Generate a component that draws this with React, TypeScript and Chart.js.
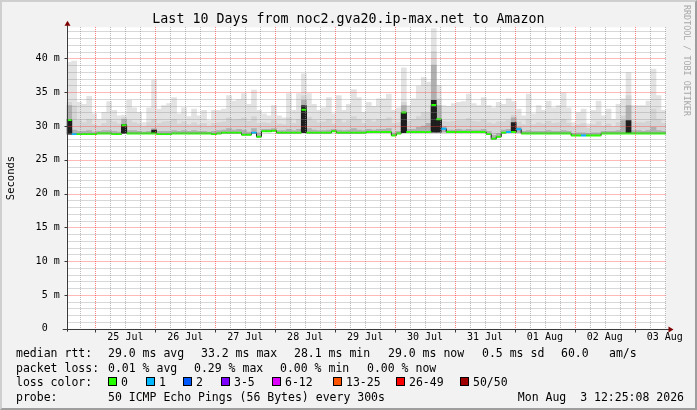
import React, { useEffect, useRef } from 'react';
import { Chart, registerables } from 'chart.js';

Chart.register(...registerables);

const FONT = "'DejaVu Sans Mono', monospace";

// time axis in hours relative to 25 Jul 00:00
const rangeStartHour = -11.5;
const rangeEndHour = 228.5;
const binHours = 2;

const dayLabels = ['25 Jul', '26 Jul', '27 Jul', '28 Jul', '29 Jul', '30 Jul', '31 Jul', '01 Aug', '02 Aug', '03 Aug'];

// median RTT per 2-hour bin (ms)
const medianRtt = [
  30.9, 28.8, 28.8, 28.8, 28.8, 28.8, 28.9, 28.9, 28.9, 28.8,
  28.8, 30.1, 28.9, 28.9, 28.9, 28.9, 28.9, 28.9, 28.8, 28.8,
  28.8, 28.9, 28.9, 28.9, 28.9, 28.9, 28.9, 28.9, 28.9, 28.8,
  28.9, 29.0, 29.0, 29.0, 29.0, 28.7, 28.7, 29.0, 28.4, 29.2,
  29.2, 29.3, 29.0, 29.0, 29.0, 29.0, 29.0, 32.4, 29.0, 29.0,
  29.0, 29.0, 29.0, 29.2, 29.0, 29.0, 29.0, 29.0, 29.0, 29.0,
  29.1, 29.1, 29.1, 29.1, 29.1, 28.6, 28.9, 32.0, 29.1, 29.1,
  29.1, 29.1, 29.1, 33.1, 31.0, 29.6, 29.1, 29.1, 29.1, 29.1,
  29.1, 29.1, 29.1, 29.1, 28.8, 28.1, 28.4, 29.0, 29.1, 29.1,
  29.5, 28.9, 28.9, 28.9, 28.9, 28.9, 28.9, 28.9, 28.9, 28.9,
  28.9, 28.6, 28.6, 28.6, 28.6, 28.6, 28.6, 28.9, 28.9, 28.9,
  28.9, 28.9, 28.9, 28.9, 28.9, 28.9, 28.9, 28.9, 28.9, 28.9,
];

// highest ping of the bin (light smoke top, ms)
const smokeTop = [
  39.4, 39.6, 33.5, 33.2, 34.4, 31.8, 31.0, 32.0, 33.6, 32.3,
  31.5, 31.6, 33.8, 32.7, 32.0, 30.5, 32.7, 36.8, 32.5, 33.0,
  33.3, 34.2, 31.8, 32.7, 31.4, 32.5, 31.5, 32.3, 30.8, 32.3,
  32.3, 32.5, 34.5, 33.7, 33.9, 34.8, 33.2, 35.3, 32.3, 31.8,
  31.5, 33.0, 31.5, 31.2, 34.8, 32.3, 34.8, 37.7, 34.8, 33.2,
  32.3, 32.7, 34.2, 31.8, 34.5, 32.3, 33.2, 35.4, 34.2, 32.0,
  33.5, 32.9, 34.0, 34.0, 34.7, 32.3, 32.7, 38.6, 33.0, 34.0,
  35.9, 37.2, 36.5, 44.4, 36.0, 33.0, 32.9, 33.3, 33.5, 33.6,
  34.7, 33.3, 33.0, 34.2, 33.0, 32.7, 33.5, 33.2, 34.0, 33.6,
  32.5, 31.5, 34.7, 31.8, 33.0, 32.3, 33.7, 32.7, 33.0, 34.9,
  32.7, 30.5, 32.0, 32.5, 30.3, 32.3, 33.7, 31.5, 32.5, 31.0,
  33.2, 34.0, 37.9, 33.0, 33.0, 33.0, 33.7, 38.4, 34.5, 32.3,
];

// medium smoke top (ms)
const smokeMid = [
  33.5, 33.0, 30.8, 30.5, 31.0, 30.2, 30.0, 30.4, 30.9, 30.6,
  30.3, 31.2, 30.8, 30.5, 30.3, 29.9, 30.5, 31.0, 30.4, 30.6,
  30.7, 31.0, 30.3, 30.6, 30.2, 30.5, 30.2, 30.4, 30.0, 30.4,
  30.5, 30.6, 31.2, 30.9, 31.0, 31.2, 30.7, 31.4, 30.4, 30.5,
  30.4, 30.8, 30.3, 30.2, 31.2, 30.4, 31.0, 34.5, 31.3, 30.8,
  30.5, 30.6, 31.0, 30.3, 31.0, 30.5, 30.8, 31.4, 31.0, 30.4,
  30.9, 30.6, 31.0, 31.0, 31.2, 30.4, 30.5, 33.5, 30.7, 31.0,
  31.4, 32.0, 32.0, 41.0, 34.0, 30.7, 30.6, 30.7, 30.8, 30.8,
  31.1, 30.7, 30.6, 30.9, 30.5, 30.3, 30.6, 30.6, 30.8, 31.6,
  30.6, 30.2, 31.0, 30.2, 30.5, 30.3, 30.7, 30.4, 30.5, 31.0,
  30.4, 29.8, 30.2, 30.4, 29.7, 30.2, 30.6, 30.0, 30.3, 29.9,
  30.5, 31.5, 34.5, 30.6, 30.5, 30.5, 30.7, 32.5, 31.0, 30.4,
];

// dense smoke top right above the median (ms)
const smokeDense = [
  33.0, 29.4, 29.2, 29.2, 29.3, 29.1, 29.2, 29.3, 29.3, 29.2,
  29.1, 31.0, 29.3, 29.3, 29.2, 29.1, 29.2, 29.6, 29.2, 29.2,
  29.2, 29.3, 29.2, 29.3, 29.2, 29.3, 29.2, 29.2, 29.1, 29.2,
  29.3, 29.4, 29.6, 29.4, 29.5, 29.4, 29.1, 29.6, 29.0, 29.5,
  29.5, 29.6, 29.3, 29.3, 29.5, 29.3, 29.5, 33.8, 29.6, 29.4,
  29.3, 29.3, 29.4, 29.5, 29.4, 29.3, 29.4, 29.6, 29.4, 29.3,
  29.5, 29.4, 29.5, 29.5, 29.6, 29.0, 29.2, 33.0, 29.5, 29.5,
  29.8, 30.0, 30.4, 39.0, 33.0, 29.9, 29.4, 29.4, 29.5, 29.4,
  29.5, 29.4, 29.4, 29.5, 29.2, 28.6, 28.9, 29.4, 29.5, 31.2,
  29.8, 29.2, 29.3, 29.2, 29.2, 29.2, 29.3, 29.2, 29.2, 29.3,
  29.2, 28.9, 29.0, 29.0, 28.9, 29.0, 29.0, 29.2, 29.2, 29.2,
  29.3, 30.8, 33.0, 29.3, 29.3, 29.2, 29.3, 29.8, 29.3, 29.2,
];

// bins with a black (very dense) column, and its top (ms)
const spikeBins = [0, 11, 17, 47, 67, 73, 74, 89, 112];
const spikeTops = [31.0, 30.2, 29.4, 33.0, 32.0, 33.8, 31.0, 30.5, 30.8];

// bins where the lowest ping lies clearly below the median (ms)
const floorBins = [0, 11, 47, 67, 73, 74, 75, 90];
const floorValues = [28.8, 28.9, 29.0, 29.0, 29.1, 29.1, 29.1, 29.0];

// bins with lost pings, and how many
const lossBins = [1, 37, 75, 88, 90, 103];
const lossCounts = [1, 1, 1, 1, 1, 1];

const lossLegendLabels = ['0', '1', '2', '3-5', '6-12', '13-25', '26-49', '50/50'];
const lossLegendColors = ['#26ff00', '#00b8ff', '#0059ff', '#7e00ff', '#dd00ff', '#ff5500', '#ff0000', '#a00000'];
const lossLegendX = [108, 146, 183, 221, 272, 333, 396, 460];

const medianStats = ['29.0 ms avg', '33.2 ms max', '28.1 ms min', '29.0 ms now', '0.5 ms sd', '60.0', 'am/s'];
const medianStatsX = [108, 201, 294, 388, 482, 561, 609];
const lossStats = ['0.01 % avg', '0.29 % max', '0.00 % min', '0.00 % now'];
const lossStatsX = [108, 194, 280, 367];

// grid positions: every 1 ms (major every 5 ms), every 6 h (major every 24 h)
const yGridValues = Array.from({ length: 45 }, (_, i) => i);
const xGridValues = Array.from({ length: 40 }, (_, i) => -6 + 6 * i);

function lossColor(n: number) {
  if (n <= 0) return lossLegendColors[0];
  if (n === 1) return lossLegendColors[1];
  if (n === 2) return lossLegendColors[2];
  if (n <= 5) return lossLegendColors[3];
  if (n <= 12) return lossLegendColors[4];
  if (n <= 25) return lossLegendColors[5];
  if (n <= 49) return lossLegendColors[6];
  return lossLegendColors[7];
}

function binStart(i: number) {
  return rangeStartHour + i * binHours;
}

function stepSeries(values: number[]) {
  const pts = values.map((v, i) => ({ x: binStart(i), y: v }));
  pts.push({ x: rangeEndHour, y: values[values.length - 1] });
  return pts;
}

// vertical grid: crisp dots; horizontal grid: faint line
const minorDot = 'rgba(140,140,140,0.6)';
const majorDot = 'rgba(255,60,60,0.65)';
const minorLine = 'rgba(140,140,140,0.34)';
const majorLine = 'rgba(255,60,60,0.36)';

const rrdPlugin = {
  id: 'rrdFrame',
  beforeDraw(chart: any) {
    const { ctx, chartArea: a } = chart;
    ctx.save();
    ctx.fillStyle = '#ffffff';
    ctx.fillRect(a.left, a.top, a.right - a.left, a.bottom - a.top);
    ctx.restore();
  },
  afterDatasetsDraw(chart: any) {
    const { ctx, chartArea: a, scales } = chart;
    const xs = scales.x;
    const ys = scales.y;
    const left = Math.round(a.left) + 1;
    const right = Math.round(a.right);
    const top = Math.round(a.top);
    const bottom = Math.round(a.bottom);
    ctx.save();
    const pass = (major: boolean) => {
      ctx.fillStyle = major ? majorLine : minorLine;
      yGridValues.forEach((v) => {
        if (v === 0 || (v % 5 === 0) !== major) return;
        const py = Math.round(ys.getPixelForValue(v));
        ctx.fillRect(left, py, right - left, 1);
      });
      ctx.fillStyle = major ? majorDot : minorDot;
      xGridValues.forEach((v) => {
        if ((v % 24 === 0) !== major) return;
        const px = Math.round(xs.getPixelForValue(v));
        for (let py = top; py < bottom; py += 2) ctx.fillRect(px, py, 1, 1);
      });
    };
    pass(false);
    pass(true);
    ctx.restore();
  },
  afterDraw(chart: any) {
    const { ctx, chartArea: a, scales } = chart;
    const x0 = Math.round(a.left) + 0.5;
    const y0 = Math.round(a.bottom) + 0.5;
    ctx.save();
    ctx.strokeStyle = '#3a3a3a';
    ctx.lineWidth = 1;
    ctx.beginPath();
    ctx.moveTo(x0, a.bottom + 3);
    ctx.lineTo(x0, a.top - 2);
    ctx.moveTo(a.left - 4, y0);
    ctx.lineTo(a.right + 3, y0);
    yGridValues.forEach((v) => {
      if (v % 5 !== 0) return;
      const py = Math.round(scales.y.getPixelForValue(v)) + 0.5;
      ctx.moveTo(x0 - 3, py);
      ctx.lineTo(x0, py);
    });
    xGridValues.forEach((v) => {
      if (v % 24 !== 0) return;
      const px = Math.round(scales.x.getPixelForValue(v)) + 0.5;
      ctx.moveTo(px, y0);
      ctx.lineTo(px, y0 + 3);
    });
    ctx.stroke();
    ctx.fillStyle = '#7f0000';
    ctx.beginPath();
    ctx.moveTo(x0 - 3, a.top - 1.5);
    ctx.lineTo(x0 + 3, a.top - 1.5);
    ctx.lineTo(x0, a.top - 6.5);
    ctx.closePath();
    ctx.fill();
    ctx.beginPath();
    ctx.moveTo(a.right + 2.5, y0 - 3);
    ctx.lineTo(a.right + 2.5, y0 + 3);
    ctx.lineTo(a.right + 7.5, y0);
    ctx.closePath();
    ctx.fill();
    ctx.restore();
  },
};

export default function App() {
  const ref = useRef<HTMLCanvasElement>(null);

  useEffect(() => {
    const canvas = ref.current;
    if (!canvas) return;

    const floorSeries = medianRtt.slice();
    floorBins.forEach((b, k) => { floorSeries[b] = floorValues[k]; });
    const lossPerBin = medianRtt.map(() => 0);
    lossBins.forEach((b, k) => { lossPerBin[b] = lossCounts[k]; });

    const medianPieces: { x: number; y: number | null }[] = [];
    medianRtt.forEach((v, i) => {
      medianPieces.push({ x: binStart(i), y: v });
      medianPieces.push({ x: binStart(i) + binHours, y: v });
      medianPieces.push({ x: binStart(i) + binHours, y: null });
    });

    const smokeBars = (bins: number[], tops: number[], color: string, order: number) => ({
      type: 'bar',
      data: bins.map((b, k) => ({ x: binStart(b) + binHours / 2, y: [floorSeries[b], tops[k]] })),
      backgroundColor: color,
      borderWidth: 0,
      grouped: false,
      barPercentage: 1,
      categoryPercentage: 1,
      order,
    });
    const allBins = medianRtt.map((_, i) => i);

    const chart = new Chart(canvas, {
      type: 'line',
      data: {
        datasets: [
          {
            data: medianPieces,
            borderColor: lossLegendColors[0],
            borderWidth: 2,
            pointRadius: 0,
            spanGaps: false,
            fill: false,
            order: 0,
            segment: {
              borderColor: (c: any) => lossColor(lossPerBin[Math.floor(c.p0DataIndex / 3)]),
            },
          },
          {
            data: stepSeries(medianRtt),
            stepped: 'before',
            borderColor: '#1a1a1a',
            borderWidth: 1,
            pointRadius: 0,
            fill: false,
            order: 1,
          },
          smokeBars(spikeBins, spikeTops, '#1e1e1e', 2),
          smokeBars(allBins, smokeDense, '#b0b0b0', 3),
          smokeBars(allBins, smokeMid, '#d4d4d4', 4),
          smokeBars(allBins, smokeTop, '#e3e3e3', 5),
        ] as any,
      },
      options: {
        responsive: false,
        animation: false,
        devicePixelRatio: 1,
        events: [],
        layout: { padding: { left: 0, right: 31, top: 27.3, bottom: 61.3 } },
        plugins: {
          legend: { display: false },
          tooltip: { enabled: false },
          title: { display: false },
        },
        scales: {
          x: {
            type: 'linear',
            min: rangeStartHour,
            max: rangeEndHour,
            offset: false,
            afterBuildTicks: (s: any) => { s.ticks = xGridValues.map((v) => ({ value: v })); },
            afterFit: (s: any) => { s.height = 20; },
            ticks: {
              autoSkip: false,
              maxRotation: 0,
              minRotation: 0,
              padding: 0,
              color: '#000',
              font: { family: FONT, size: 10 },
              callback: (v: any) => ((v - 12) % 24 === 0 ? dayLabels[(v - 12) / 24] : ''),
            },
            grid: { display: false, drawTicks: true, tickLength: 3 },
            border: { display: false },
          },
          y: {
            type: 'linear',
            min: 0,
            max: 44.6,
            afterBuildTicks: (s: any) => { s.ticks = yGridValues.map((v) => ({ value: v })); },
            afterFit: (s: any) => { s.width = 66.7; },
            ticks: {
              autoSkip: false,
              padding: 4,
              color: '#000',
              font: { family: FONT, size: 10 },
              callback: (v: any) => (v % 5 === 0 ? (v === 0 ? '0  ' : v + ' m') : ''),
            },
            grid: { display: false, drawTicks: true, tickLength: 3 },
            border: { display: false },
            title: {
              display: true,
              text: 'Seconds',
              color: '#000',
              font: { family: FONT, size: 10.5 },
              padding: { top: 4.5, bottom: 0 },
            },
          },
        },
      } as any,
      plugins: [rrdPlugin],
    });

    return () => chart.destroy();
  }, []);

  const textFont = `11.5px/14px ${FONT}`;
  const txt = (left: number, top: number, t: string, key: string) => (
    <span key={key} style={{ position: 'absolute', left, top, font: textFont, color: '#000', whiteSpace: 'pre' }}>{t}</span>
  );

  return (
    <div style={{ position: 'fixed', left: 0, top: 0, width: 697, height: 410, background: '#f2f2f2', overflow: 'hidden' }}>
      <canvas ref={ref} width={697} height={410} style={{ position: 'absolute', left: 0, top: 0, width: 697, height: 410 }} />
      <div style={{ position: 'absolute', left: 0, top: 11, width: 697, textAlign: 'center', font: `13.3px/15px ${FONT}`, color: '#000', whiteSpace: 'pre' }}>
        Last 10 Days from noc2.gva20.ip-max.net to Amazon
      </div>
      <div style={{ position: 'absolute', left: 682, top: 5, writingMode: 'vertical-rl', font: `8.4px/9px ${FONT}`, color: '#a8a8a8', whiteSpace: 'pre' }}>
        RRDTOOL / TOBI OETIKER
      </div>
      {txt(16, 346, 'median rtt:', 'm0')}
      {medianStats.map((s, i) => txt(medianStatsX[i], 346, s, 'm' + (i + 1)))}
      {txt(16, 361, 'packet loss:', 'p0')}
      {lossStats.map((s, i) => txt(lossStatsX[i], 361, s, 'p' + (i + 1)))}
      {txt(16, 375, 'loss color:', 'l0')}
      {lossLegendLabels.map((s, i) => (
        <React.Fragment key={'lc' + i}>
          <span style={{ position: 'absolute', left: lossLegendX[i], top: 377, width: 9, height: 9, boxSizing: 'border-box', border: '1px solid #000', background: lossLegendColors[i] }} />
          {txt(lossLegendX[i] + 13, 375, s, 'lt' + i)}
        </React.Fragment>
      ))}
      {txt(16, 390, 'probe:', 'r0')}
      {txt(108, 390, '50 ICMP Echo Pings (56 Bytes) every 300s', 'r1')}
      <span style={{ position: 'absolute', right: 13, top: 390, font: textFont, color: '#000', whiteSpace: 'pre' }}>Mon Aug  3 12:25:08 2026</span>
      <div style={{ position: 'absolute', left: 0, top: 0, width: 697, height: 410, boxSizing: 'border-box', borderTop: '2px solid #cfcfcf', borderLeft: '2px solid #cfcfcf', borderRight: '2px solid #9e9e9e', borderBottom: '2px solid #9e9e9e', pointerEvents: 'none' }} />
    </div>
  );
}
